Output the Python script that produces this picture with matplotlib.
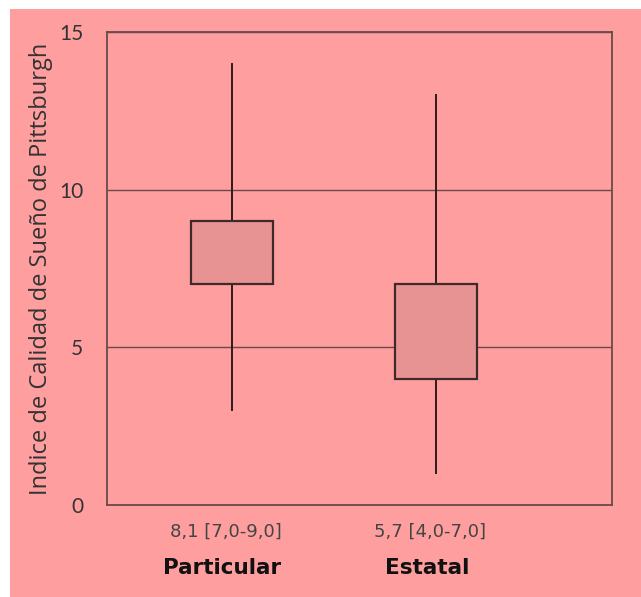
import matplotlib.pyplot as plt
from matplotlib.patches import Rectangle

# PSQI summary per school type: median [IQR] and whisker range
groups = ['Particular', 'Estatal']
summaries = ['8,1 [7,0-9,0]', '5,7 [4,0-7,0]']
q1 = [7.0, 4.0]
q3 = [9.0, 7.0]
whisker_lo = [3, 1]
whisker_hi = [14, 13]

bg = '#ff9e9e'
box_fc = '#e89393'
edge = '#3e2a2a'

fig = plt.figure(figsize=(6.41, 5.97), dpi=100)
fig.patch.set_facecolor('white')
# pink panel behind everything
fig.add_artist(Rectangle((10 / 641, 0), 1, 1 - 9 / 597, transform=fig.transFigure,
                         facecolor=bg, edgecolor='none', zorder=-10))

ax = fig.add_axes([107 / 641, 1 - 505 / 597, (612 - 107) / 641, (505 - 32) / 597])
ax.set_facecolor(bg)

pos = [1, 2]
width = 0.4
for x, lo, hi, a, b in zip(pos, whisker_lo, whisker_hi, q1, q3):
    ax.plot([x, x], [lo, a], color='#2a1c1c', lw=1.4, zorder=2)
    ax.plot([x, x], [b, hi], color='#2a1c1c', lw=1.4, zorder=2)
    ax.add_patch(Rectangle((x - width / 2, a), width, b - a, facecolor=box_fc,
                           edgecolor=edge, lw=1.6, zorder=3))

ax.set_xlim(0.39, 2.86)
ax.set_ylim(0, 15)
ax.set_yticks([0, 5, 10, 15])
ax.yaxis.grid(True, color='#6a4a4a', lw=1.0)
ax.set_axisbelow(True)
for s in ax.spines.values():
    s.set_color('#6a4a4a')
    s.set_linewidth(1.3)

ax.tick_params(axis='y', length=0, pad=17, labelsize=15, labelcolor='#333333')
for t in ax.get_yticklabels():
    t.set_fontfamily('Lato')
ax.set_xticks([])
ax.set_ylabel('Indice de Calidad de Sueño de Pittsburgh', fontsize=17,
              fontfamily='Open Sans', color='#333333')
ax.yaxis.set_label_coords(-0.107, 0.5)

for x, s, g in zip(pos, summaries, groups):
    ax.text(x - 0.03, -0.85, s, ha='center', va='center', fontsize=13,
            fontfamily='DejaVu Sans', color='#444444')
    ax.text(x - 0.045, -2.0, g, ha='center', va='center', fontsize=15.5,
            fontfamily='DejaVu Sans', fontweight='bold', color='#111111')

fig.savefig('out.png', dpi=100)
